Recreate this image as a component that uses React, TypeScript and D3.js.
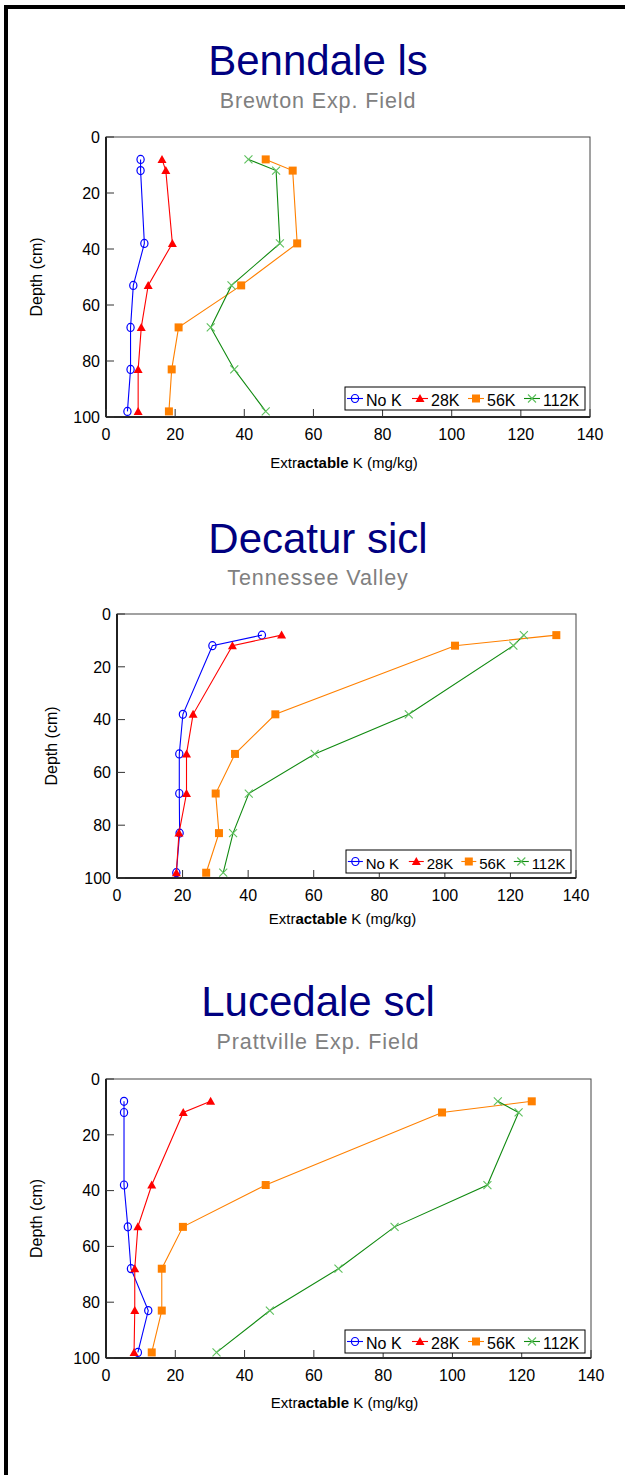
import React from 'react';
import * as d3 from 'd3';

// ---------- data ----------
const depths = [8, 12, 38, 53, 68, 83, 98];
const seriesNames = ['No K', '28K', '56K', '112K'];
const xTicks = [0, 20, 40, 60, 80, 100, 120, 140];
const yTicks = [0, 20, 40, 60, 80, 100];

const panelTitles = ['Benndale ls', 'Decatur sicl', 'Lucedale scl'];
const panelSubtitles = ['Brewton Exp. Field', 'Tennessee Valley', 'Prattville Exp. Field'];

const benndaleNoK = [10.0, 10.0, 11.1, 7.9, 7.1, 7.1, 6.2];
const benndale28K = [16.2, 17.3, 19.2, 12.2, 10.2, 9.3, 9.3];
const benndale56K = [46.2, 54.0, 55.3, 39.1, 21.0, 19.0, 18.2];
const benndale112K = [41.2, 49.2, 50.3, 36.3, 30.3, 37.1, 46.2];

const decaturNoK = [44.2, 29.1, 20.1, 19.0, 19.0, 19.1, 18.1];
const decatur28K = [50.2, 35.2, 23.2, 21.2, 21.2, 18.9, 18.1];
const decatur56K = [134.0, 103.1, 48.3, 36.0, 30.1, 31.1, 27.2];
const decatur112K = [124.1, 120.9, 89.0, 60.3, 40.2, 35.4, 32.4];

const lucedaleNoK = [5.2, 5.2, 5.2, 6.3, 7.2, 12.2, 9.2];
const lucedale28K = [30.2, 22.3, 13.2, 9.2, 8.3, 8.3, 8.1];
const lucedale56K = [122.9, 97.0, 46.1, 22.2, 16.1, 16.1, 13.2];
const lucedale112K = [113.1, 119.1, 110.1, 83.3, 67.1, 47.3, 31.9];

const panelSeries = [
  [benndaleNoK, benndale28K, benndale56K, benndale112K],
  [decaturNoK, decatur28K, decatur56K, decatur112K],
  [lucedaleNoK, lucedale28K, lucedale56K, lucedale112K],
];

// ---------- styles / layout ----------
const FONT = '"Liberation Sans", Arial, Helvetica, sans-serif';
const lineColors = ['#0000ff', '#ff0000', '#ff8000', '#108a10'];
const markerColors = ['#0000ff', '#ff0000', '#ff8000', '#5cbf5c'];

const layouts = [
  { left: 106, right: 590, top: 137, bottom: 417, titleY: 75, subY: 108, yLabelX: 42, xLabelDy: 51, legendFont: 16, legendRight: 5, legendBottom: 7 },
  { left: 117, right: 576, top: 614, bottom: 878, titleY: 553, subY: 585, yLabelX: 57, xLabelDy: 46, legendFont: 15, legendRight: 5, legendBottom: 5 },
  { left: 106, right: 591, top: 1079, bottom: 1358, titleY: 1016, subY: 1049, yLabelX: 42, xLabelDy: 50, legendFont: 16, legendRight: 6, legendBottom: 5 },
];

function Marker({ kind, x, y }: { kind: number; x: number; y: number }) {
  const c = markerColors[kind];
  if (kind === 0) return <ellipse cx={x} cy={y} rx={3.6} ry={4} fill="none" stroke={c} strokeWidth={1.2} />;
  if (kind === 1) return <path d={`M${x},${y - 4.5}L${x + 4.5},${y + 3.5}L${x - 4.5},${y + 3.5}Z`} fill={c} />;
  if (kind === 2) return <rect x={x - 4} y={y - 4} width={8} height={8} fill={c} />;
  return (
    <path d={`M${x - 4},${y - 4}L${x + 4},${y + 4}M${x - 4},${y + 4}L${x + 4},${y - 4}`} stroke={c} strokeWidth={1.1} fill="none" />
  );
}

function Panel({ idx }: { idx: number }) {
  const L = layouts[idx];
  const x = d3.scaleLinear().domain([0, 140]).range([L.left, L.right]);
  const y = d3.scaleLinear().domain([0, 100]).range([L.top, L.bottom]);
  const series = panelSeries[idx];
  const line = d3
    .line<number>()
    .x((v) => x(v))
    .y((_, i) => y(depths[i]));
  const cx = 318;

  const lf = L.legendFont;
  const s = lf / 16;
  const boxW = 240 * s;
  const boxH = 23;
  const boxX = L.right - L.legendRight - boxW;
  const boxY = L.bottom - L.legendBottom - boxH;
  const entryOffsets = [2, 67, 123, 179].map((o) => o * s);

  return (
    <g>
      <text x={cx} y={L.titleY} textAnchor="middle" fontSize={42} fill="#000080" fontFamily={FONT}>
        {panelTitles[idx]}
      </text>
      <text x={cx} y={L.subY} textAnchor="middle" fontSize={21.5} fill="#808080" fontFamily={FONT} letterSpacing={0.9}>
        {panelSubtitles[idx]}
      </text>

      {/* frame */}
      <rect x={L.left} y={L.top} width={L.right - L.left} height={L.bottom - L.top} fill="#fff" stroke="#444" strokeWidth={1} />
      <line x1={L.left} x2={L.left} y1={L.top} y2={L.bottom} stroke="#000" strokeWidth={1.6} />
      <line x1={L.left} x2={L.right} y1={L.bottom} y2={L.bottom} stroke="#000" strokeWidth={1.6} />

      {/* y ticks */}
      {yTicks.map((t) => (
        <g key={'y' + t}>
          <line x1={L.left} x2={L.left + 8} y1={y(t)} y2={y(t)} stroke="#333" strokeWidth={1} />
          <text x={L.left - 6} y={y(t)} dy="0.36em" textAnchor="end" fontSize={16} fontFamily={FONT} fill="#000">
            {t}
          </text>
        </g>
      ))}
      {/* x ticks */}
      {xTicks.map((t) => (
        <g key={'x' + t}>
          <line x1={x(t)} x2={x(t)} y1={L.bottom} y2={L.bottom - 8} stroke="#333" strokeWidth={1} />
          <text x={x(t)} y={L.bottom + 23} textAnchor="middle" fontSize={16} fontFamily={FONT} fill="#000">
            {t}
          </text>
        </g>
      ))}

      <text
        transform={`translate(${L.yLabelX},${(L.top + L.bottom) / 2}) rotate(-90)`}
        textAnchor="middle"
        fontSize={16}
        fontFamily={FONT}
        fill="#000"
      >
        Depth (cm)
      </text>
      <text x={(L.left + L.right) / 2 - 4} y={L.bottom + L.xLabelDy} textAnchor="middle" fontSize={15} fontFamily={FONT} fill="#000">
        Extr<tspan fontWeight={600}>act</tspan><tspan fontWeight="bold">able</tspan> K (mg/kg)
      </text>

      {/* series */}
      {series.map((vals, si) => (
        <g key={'s' + si}>
          <path d={line(vals) || ''} fill="none" stroke={lineColors[si]} strokeWidth={1.1} />
          {vals.map((v, i) => (
            <Marker key={i} kind={si} x={x(v)} y={y(depths[i])} />
          ))}
        </g>
      ))}

      {/* legend */}
      <rect x={boxX} y={boxY} width={boxW} height={boxH} fill="#fff" stroke="#000" strokeWidth={1} />
      {seriesNames.map((name, si) => {
        const lx = boxX + entryOffsets[si];
        const my = boxY + boxH / 2;
        return (
          <g key={'l' + si}>
            <line x1={lx} x2={lx + 16 * s} y1={my} y2={my} stroke={lineColors[si]} strokeWidth={1.1} />
            <Marker kind={si} x={lx + 8 * s} y={my} />
            <text x={lx + 19 * s} y={boxY + 18.5} fontSize={lf} fontFamily={FONT} fill="#000">
              {name}
            </text>
          </g>
        );
      })}
    </g>
  );
}

export default function App() {
  return (
    <svg
      width={625}
      height={1475}
      style={{ position: 'absolute', left: 0, top: 0, background: '#fff' }}
      xmlns="http://www.w3.org/2000/svg"
    >
      <rect x={0} y={0} width={625} height={1475} fill="#fff" />
      {[0, 1, 2].map((i) => (
        <Panel key={i} idx={i} />
      ))}
      <rect x={6} y={7} width={640} height={1500} fill="none" stroke="#000" strokeWidth={4} />
    </svg>
  );
}
